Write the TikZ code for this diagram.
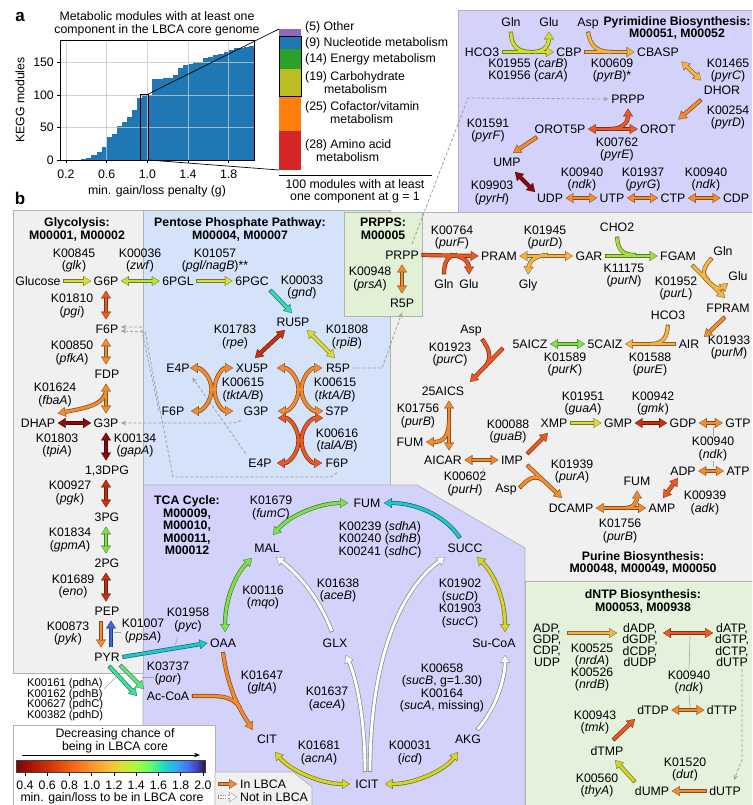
\documentclass[tikz,border=0pt]{standalone}
\usepackage{fontspec}
\setmainfont{Liberation Sans}
\usetikzlibrary{arrows.meta,calc}
\definecolor{tabblue}{HTML}{1F77B4}
\definecolor{tabpurple}{HTML}{9467BD}
\definecolor{tabgreen}{HTML}{2CA02C}
\definecolor{tabolive}{HTML}{BCBD22}
\definecolor{taborange}{HTML}{FF7F0E}
\definecolor{tabred}{HTML}{D62728}
\definecolor{bxgray}{HTML}{F0F0F0}
\definecolor{bxblue}{HTML}{D4E2FA}
\definecolor{bxlav}{HTML}{D2D2FA}
\definecolor{bxgreen}{HTML}{E2F0D6}
\definecolor{bxdgreen}{HTML}{E4F2DC}
\definecolor{cHC}{HTML}{D0E030}
\definecolor{cYel}{HTML}{DCDC3A}
\definecolor{cYG}{HTML}{BDE23C}
\definecolor{cLGrn}{HTML}{A4E03E}
\definecolor{cGrn}{HTML}{7EE04C}
\definecolor{cTeal}{HTML}{36DAB6}
\definecolor{cPdh}{HTML}{3EE09A}
\definecolor{cPor}{HTML}{62E684}
\definecolor{cCyan}{HTML}{22C6CC}
\definecolor{cLOr}{HTML}{F7B444}
\definecolor{cOr}{HTML}{F38C30}
\definecolor{cROr}{HTML}{EA5A22}
\definecolor{cRed}{HTML}{C8300F}
\definecolor{cDRed}{HTML}{8A0A0A}
\definecolor{cBlue}{HTML}{4466DD}
\definecolor{cOlive}{HTML}{D4D42A}
\pgfdeclarehorizontalshading{turbo}{100bp}{rgb(0bp)=(0.48,0.02,0.01); rgb(25bp)=(0.48,0.02,0.01); rgb(30bp)=(0.70,0.10,0.01); rgb(35bp)=(0.86,0.24,0.03); rgb(40bp)=(0.96,0.40,0.09); rgb(45bp)=(0.99,0.58,0.17); rgb(50bp)=(0.96,0.76,0.22); rgb(53.5bp)=(0.85,0.89,0.22); rgb(57bp)=(0.64,0.99,0.24); rgb(60.5bp)=(0.38,0.99,0.44); rgb(64bp)=(0.12,0.85,0.78); rgb(67.5bp)=(0.20,0.65,0.95); rgb(70.5bp)=(0.27,0.45,0.95); rgb(73bp)=(0.25,0.25,0.70); rgb(75bp)=(0.19,0.07,0.23); rgb(100bp)=(0.19,0.07,0.23)}
\newcommand\fs{\fontsize{12.3}{12.5}\selectfont}
\newcommand\FA[3][->]{\draw[ol=#2,#1] #3; \draw[fl=#2,#1] #3;}
\newcommand\FX[3]{\draw[ol=#1,<->] #2; \draw[ol=#1,<->] #3; \draw[fl=#1,<->] #2; \draw[fl=#1,<->] #3;}
\newcommand\FY[5]{%
 \draw[ol=#1,#2] #3;
 \if\relax\detokenize{#4}\relax\else\draw[ol=#1,->] #4;\fi
 \if\relax\detokenize{#5}\relax\else\draw[ol=#1] #5;\fi
 \draw[fl=#1,#2] #3;
 \if\relax\detokenize{#4}\relax\else\draw[fl=#1,->] #4;\fi
 \if\relax\detokenize{#5}\relax\else\draw[fl=#1] #5;\fi}
\begin{document}
\begin{tikzpicture}[x=1pt,y=1pt,font=\fs,
 m/.style={inner xsep=2.5pt, inner ysep=5pt, text height=8.8pt, text depth=0pt},
 k/.style={align=center, inner sep=0pt},
 tt/.style={align=center, inner sep=0pt, font=\fs\bfseries},
 ol/.style={line width=4.2pt, draw=#1!55!black, >={Triangle[length=7.8pt,width=9.8pt,line width=0.1pt]}},
 fl/.style={line width=2.8pt, draw=#1, shorten >=0.9pt, shorten <=0.9pt, >={Triangle[length=6.2pt,width=8pt,line width=0.1pt]}},
 dsh/.style={draw=gray!75, line width=0.8pt, dash pattern=on 3pt off 2pt, -{Stealth[length=5pt,width=4.5pt]}},
 ptr/.style={draw=gray!70, line width=0.6pt},
 bx/.style={draw=gray!60, line width=0.7pt},
]
\clip (0,0) rectangle (752,-805);
\fill[white] (0,0) rectangle (752,-805);

%================ panel a
\node[font=\bfseries\fontsize{17}{17}\selectfont, inner sep=0] (lbla) at (20,-17) {a};
\node[font=\bfseries\fontsize{17}{17}\selectfont, inner sep=0] (lblb) at (20,-198) {b};
\node[k] (atitle) at (157,-24) {Metabolic modules with at least one\\component in the LBCA core genome};
\foreach \v [count=\i from 0] in {1,3,8,12,20,35,40,52,59,66,77,95,100,100,124,125,126,126,130,141,146,147,150,150,157,158,162,163,166,169,172,173,174,175}
  \fill[tabblue] ({81.26+\i*5.08},-160) rectangle ({81.26+(\i+1)*5.08},{-160+\v*0.65});
\foreach \gx in {66,106.7,147.3,188,228.7} \draw[gray!45, line width=0.7pt, opacity=0.8] (\gx,-40) -- (\gx,-160);
\foreach \gy in {127.5,95,62.5} \draw[gray!45, line width=0.7pt, opacity=0.8] (60,-\gy) -- (254,-\gy);
\draw[line width=0.8pt] (60,-40) rectangle (254,-160);
\foreach \v/\yy [count=\i] in {0/160,50/127.5,100/95,150/62.5} {
  \draw[line width=0.7pt] (60,-\yy) -- (56.5,-\yy);
  \node[anchor=east, inner sep=0] (yt\i) at (54,-\yy) {\v};}
\foreach \lab/\xx [count=\i] in {0.2/66,0.6/106.7,1.0/147.3,1.4/188,1.8/228.7} {
  \draw[line width=0.7pt] (\xx,-160) -- (\xx,-163.5);
  \node[inner sep=0] (xt\i) at (\xx,-174) {\lab};}
\node[rotate=90, inner sep=0] (ylab) at (20,-100) {KEGG modules};
\node[inner sep=0] (xlab) at (157,-191) {min. gain/loss penalty (g)};
\draw[line width=0.9pt] (140,-94) rectangle (148.3,-160);
\draw[line width=0.7pt] (148.3,-94) -- (279,-29);
\draw[line width=0.7pt] (148.3,-160) -- (279,-170);
\fill[tabpurple] (279,-29) rectangle (301,-36);
\fill[tabblue] (279,-36) rectangle (301,-49);
\fill[tabgreen] (279,-49) rectangle (301,-69);
\fill[tabolive] (279,-69) rectangle (301,-96);
\fill[taborange] (279,-96) rectangle (301,-131);
\fill[tabred] (279,-131) rectangle (301,-170);
\draw[line width=0.9pt] (279,-36) rectangle (301,-96);
\node[anchor=west, inner sep=0] (c1) at (305,-27) {(5) Other};
\node[anchor=west, inner sep=0] (c2) at (305,-43) {(9) Nucleotide metabolism};
\node[anchor=west, inner sep=0] (c3) at (305,-59) {(14) Energy metabolism};
\node[anchor=west, inner sep=0] (c4) at (305,-77) {(19) Carbohydrate};
\node[anchor=west, inner sep=0] (c4b) at (324,-89) {metabolism};
\node[anchor=west, inner sep=0] (c5) at (305,-107) {(25) Cofactor/vitamin};
\node[anchor=west, inner sep=0] (c5b) at (330,-119) {metabolism};
\node[anchor=west, inner sep=0] (c6) at (305,-145) {(28) Amino acid};
\node[anchor=west, inner sep=0] (c6b) at (316,-157) {metabolism};
\draw[line width=0.8pt] (279,-175) -- (432,-175);
\node[k] (c100) at (355,-191.5) {100 modules with at least\\one component at g = 1};

%================ region boxes
\filldraw[fill=bxgray, bx] (390,-212) rectangle (760,-581);
\filldraw[fill=bxblue, bx] (143,-210) rectangle (390,-486);
\filldraw[fill=bxlav, bx] (143,-485) -- (417,-485) -- (525,-548) -- (525,-810) -- (143,-810) -- cycle;
\filldraw[fill=bxdgreen, bx] (525,-581) rectangle (760,-810);
\filldraw[fill=bxgray, bx] (13,-210) rectangle (143,-673);
\filldraw[fill=bxgreen, bx] (344,-212) rectangle (422,-316);
\filldraw[fill=bxlav, bx] (458,-10) rectangle (760,-212);
\filldraw[fill=white, bx] (13,-725) rectangle (215,-810);
\filldraw[fill=bxgray, bx] (215,-772) -- (293,-772) -- (312,-787) -- (312,-810) -- (215,-810) -- cycle;

%================ Pyrimidine
\node[m] (glnc) at (511,-22) {Gln};
\node[m] (gluc) at (549,-22) {Glu};
\node[m] (aspc) at (588,-22) {Asp};
\node[tt] (ytitle) at (677,-28) {Pyrimidine Biosynthesis:\\M00051, M00052};
\node[m] (hco3a) at (482,-52) {HCO3};
\node[m] (cbp) at (569,-52) {CBP};
\node[m] (cbasp) at (658,-52) {CBASP};
\node[k] (k01955) at (528,-70.5) {K01955 (\textit{carB})\\K01956 (\textit{carA})};
\node[k] (k00609) at (612,-70.5) {K00609\\(\textit{pyrB})*};
\node[k] (k01465) at (728,-70.5) {K01465\\(\textit{pyrC})};
\node[m] (dhor) at (722,-90) {DHOR};
\node[k] (k00254) at (728,-117.5) {K00254\\(\textit{pyrD})};
\node[m] (prppc) at (628,-99) {PRPP};
\node[m] (orot) at (658,-129) {OROT};
\node[m] (orot5p) at (560,-129) {OROT5P};
\node[k] (k00762) at (617,-149.5) {K00762\\(\textit{pyrE})};
\node[k] (k01591) at (488,-130.5) {K01591\\(\textit{pyrF})};
\node[m] (ump) at (507,-162) {UMP};
\node[k] (k09903) at (492,-193) {K09903\\(\textit{pyrH})};
\node[m] (udp) at (550,-198) {UDP};
\node[m] (utp) at (612,-198) {UTP};
\node[m] (ctp) at (673,-198) {CTP};
\node[m] (cdp) at (736,-198) {CDP};
\node[k] (k00940b) at (582,-179.5) {K00940\\(\textit{ndk})};
\node[k] (k01937) at (643,-179.5) {K01937\\(\textit{pyrG})};
\node[k] (k00940c) at (706,-179.5) {K00940\\(\textit{ndk})};

\FY{cHC}{->}{(hco3a.east) -- (cbp.west)}{(533,-52) .. controls (544,-52) and (549,-45) .. (gluc.south)}{(glnc.south) .. controls (511,-46) and (518,-52) .. (531,-52)}
\FY{cLOr}{->}{(cbp.east) -- (cbasp.west)}{}{(aspc.south) .. controls (590,-46) and (597,-52) .. (612,-52)}
\FA[<->]{cLOr}{(cbasp.south east) -- (dhor.north west)}
\FA{cOr}{(dhor.south west) -- (orot.north east)}
\FY{cROr}{<->}{(orot5p.east) -- (orot.west)}{(610,-129) .. controls (624,-129) and (628,-121) .. (prppc.south)}{}
\FA{cOr}{(537,-137) -- (513,-153)}
\FA[<->]{cDRed}{(515,-172) -- (535,-192)}
\FA[<->]{cOr}{(udp.east) -- (utp.west)}
\FA[<->]{cOr}{(utp.east) -- (ctp.west)}
\FA[<->]{cOr}{(ctp.east) -- (cdp.west)}

%================ Glycolysis + PPP
\node[tt] (gtitle) at (77,-229.5) {Glycolysis:\\M00001, M00002};
\node[tt] (ptitle) at (240,-229.5) {Pentose Phosphate Pathway:\\M00004, M00007};
\node[m] (glc) at (38,-281) {Glucose};
\node[m] (g6p) at (106,-281) {G6P};
\node[k] (k00845) at (74,-260.5) {K00845\\(\textit{glk})};
\node[k] (k00036) at (140,-260.5) {K00036\\(\textit{zwf})};
\node[m] (pgl) at (178,-281) {6PGL};
\node[m] (pgc) at (252,-281) {6PGC};
\node[k] (k01057) at (215,-260.5) {K01057\\(\textit{pgl/nagB})**};
\node[k] (k00033) at (302,-287.5) {K00033\\(\textit{gnd})};
\node[m] (ru5p) at (293,-322) {RU5P};
\node[k] (k01783) at (235,-337) {K01783\\(\textit{rpe})};
\node[k] (k01808) at (347,-337) {K01808\\(\textit{rpiB})};
\node[m] (e4pa) at (178,-368) {E4P};
\node[m] (xu5p) at (252,-368) {XU5P};
\node[m] (r5p) at (338,-368) {R5P};
\node[k] (k00615a) at (243,-390) {K00615\\(\textit{tktA/B})};
\node[k] (k00615b) at (335,-390) {K00615\\(\textit{tktA/B})};
\node[m] (f6pb) at (173,-411) {F6P};
\node[m] (g3pb) at (256,-411) {G3P};
\node[m] (s7p) at (337,-411) {S7P};
\node[k] (k00616) at (337,-440.5) {K00616\\(\textit{talA/B})};
\node[m] (e4pb) at (260,-463) {E4P};
\node[m] (f6pc) at (337,-463) {F6P};
\node[k] (k01810) at (72,-306) {K01810\\(\textit{pgi})};
\node[m] (f6pa) at (107,-329) {F6P};
\node[k] (k00850) at (72,-353) {K00850\\(\textit{pfkA})};
\node[m] (fdp) at (107,-374) {FDP};
\node[k] (k01624) at (55,-395) {K01624\\(\textit{fbaA})};
\node[m] (dhap) at (38,-423) {DHAP};
\node[m] (g3pa) at (106,-423) {G3P};
\node[k] (k01803) at (57,-445.5) {K01803\\(\textit{tpiA})};
\node[k] (k00134) at (135,-445.5) {K00134\\(\textit{gapA})};
\node[m] (dpg) at (107,-470) {1,3DPG};
\node[k] (k00927) at (70,-493) {K00927\\(\textit{pgk})};
\node[m] (pg3) at (107,-517) {3PG};
\node[k] (k01834) at (70,-540) {K01834\\(\textit{gpmA})};
\node[m] (pg2) at (107,-563) {2PG};
\node[k] (k01689) at (73,-586.5) {K01689\\(\textit{eno})};
\node[m] (pep) at (107,-611) {PEP};
\node[k] (k00873) at (68,-633.5) {K00873\\(\textit{pyk})};
\node[k] (k01007) at (143,-631) {K01007\\(\textit{ppsA})};
\node[m] (pyr) at (107,-657) {PYR};
\node[k] (k01958) at (188,-620) {K01958\\(\textit{pyc})};
\node[m] (oaa) at (223,-643) {OAA};
\node[k] (k03737) at (168,-673.5) {K03737\\(\textit{por})};
\node[m] (accoa) at (168,-696) {Ac-CoA};
\node[align=left, anchor=west, inner sep=0, font=\fontsize{11.2}{10.8}\selectfont] (kpdh) at (27,-699.5) {K00161 (pdhA)\\K00162 (pdhB)\\K00627 (pdhC)\\K00382 (pdhD)};

\draw[dsh] (g3pb.south west) -- (234,-423) -- (g3pa.east);
\draw[dsh] (f6pb.west) -- (141,-327) -- ([yshift=2pt]f6pa.east);
\draw[dsh] (f6pc.south) -- (331,-477) -- (173,-477) -- (145,-332) -- ([yshift=-2pt]f6pa.east);
\draw[dsh] (e4pb.north west) -- (e4pa.south east);

\FA{cYel}{(glc.east) -- (g6p.west)}
\FA[<->]{cYG}{(g6p.east) -- (pgl.west)}
\FA{cYel}{(pgl.east) -- (pgc.west)}
\FA{cTeal}{(270,-290) -- (292,-313)}
\FA[<->]{cRed}{(285,-330) -- (255,-358)}
\FA[<->]{cYel}{(307,-330) -- (335,-358)}
\FX{cOr}{(190,-368) to[out=0,in=90] (211.5,-389.5) to[out=-90,in=0] (191,-411)}{(233,-368) to[out=180,in=90] (214.5,-389.5) to[out=-90,in=180] (233,-411)}
\FX{cOr}{(277,-368) to[out=0,in=90] (298.5,-389.5) to[out=-90,in=0] (278,-411)}{(322,-368) to[out=180,in=90] (301.5,-389.5) to[out=-90,in=180] (323,-411)}
\FX{cROr}{(278,-418) to[out=0,in=90] (298.5,-440.5) to[out=-90,in=0] (277,-463)}{(323,-418) to[out=180,in=90] (301.5,-440.5) to[out=-90,in=180] (322,-463)}
\FA[<->]{cROr}{(g6p.south) -- ([xshift=-1pt]f6pa.north)}
\FA[<->]{cOr}{([xshift=-1pt]f6pa.south) -- ([xshift=-1pt]fdp.north)}
\FY{cOr}{<->}{([xshift=-1pt]fdp.south) -- (g3pa.north)}{(106,-389) .. controls (106,-405) and (85,-408) .. (dhap.north east)}{}
\FA[<->]{cDRed}{(dhap.east) -- (g3pa.west)}
\FA[<->]{cDRed}{(g3pa.south) -- ([xshift=-1pt]dpg.north)}
\FA[<->]{cRed}{([xshift=-1pt]dpg.south) -- ([xshift=-1pt]pg3.north)}
\FA[<->]{cGrn}{([xshift=-1pt]pg3.south) -- ([xshift=-1pt]pg2.north)}
\FA[<->]{cRed}{([xshift=-1pt]pg2.south) -- ([xshift=-1pt]pep.north)}
\FA{cOr}{([xshift=-6pt]pep.south) -- ([xshift=-6pt]pyr.north)}
\FA{cBlue}{([xshift=4pt]pyr.north) -- ([xshift=4pt]pep.south)}
\FA{cCyan}{(pyr.east) -- (oaa.west)}
\FA{cPdh}{(109,-666) -- (137,-696)}
\FA{cPor}{(120,-665) -- (144,-689)}
\draw[ptr] (114,-632) -- (121,-632);
\draw[ptr] (178,-637) -- (174,-648);
\draw[ptr] (142,-677) -- (154,-677);
\draw[ptr] (104,-689) -- (118,-675);

%================ PRPPS + Purine
\node[tt] (prtitle) at (383,-229) {PRPPS:\\M00005};
\node[m] (prpp1) at (402,-255) {PRPP};
\node[k] (k00948) at (370,-279) {K00948\\(\textit{prsA})};
\node[m] (r5pb) at (402,-303) {R5P};
\node[k] (k00764) at (452,-237.5) {K00764\\(\textit{purF})};
\node[m] (pram) at (499,-256) {PRAM};
\node[m] (glna) at (444,-284) {Gln};
\node[m] (glua) at (469,-284) {Glu};
\node[k] (k01945) at (545,-237.5) {K01945\\(\textit{purD})};
\node[m] (gar) at (589,-256) {GAR};
\node[m] (gly) at (528,-284) {Gly};
\node[m] (cho2) at (617,-227) {CHO2};
\node[k] (k11175) at (624,-275.5) {K11175\\(\textit{purN})};
\node[m] (fgam) at (678,-256) {FGAM};
\node[m] (glnb) at (723,-251) {Gln};
\node[m] (glub) at (738,-276) {Glu};
\node[k] (k01952) at (676,-288.5) {K01952\\(\textit{purL})};
\node[m] (fpram) at (728,-308) {FPRAM};
\node[k] (k01933) at (729,-347.5) {K01933\\(\textit{purM})};
\node[m] (air) at (689,-344) {AIR};
\node[m] (hco3b) at (668,-315) {HCO3};
\node[k] (k01588) at (650,-364.5) {K01588\\(\textit{purE})};
\node[m] (caiz) at (605,-344) {5CAIZ};
\node[m] (aicz) at (530,-344) {5AICZ};
\node[k] (k01589) at (565,-364.5) {K01589\\(\textit{purK})};
\node[m] (aspa) at (471,-329) {Asp};
\node[k] (k01923) at (450,-354.5) {K01923\\(\textit{purC})};
\node[m] (aics) at (443,-391) {25AICS};
\node[k] (k01756a) at (418,-416) {K01756\\(\textit{purB})};
\node[m] (fuma) at (410,-442) {FUM};
\node[m] (aicar) at (443,-460) {AICAR};
\node[m] (imp) at (512,-460) {IMP};
\node[k] (k00602) at (465,-484) {K00602\\(\textit{purH})};
\node[m] (xmp) at (554,-423) {XMP};
\node[k] (k00088) at (508,-431.5) {K00088\\(\textit{guaB})};
\node[k] (k01951) at (583,-403.5) {K01951\\(\textit{guaA})};
\node[m] (gmp) at (618,-423) {GMP};
\node[k] (k00942) at (653,-403.5) {K00942\\(\textit{gmk})};
\node[m] (gdp) at (683,-423) {GDP};
\node[m] (gtp) at (738,-423) {GTP};
\node[k] (k00940a) at (713,-449) {K00940\\(\textit{ndk})};
\node[m] (adp) at (683,-471) {ADP};
\node[m] (atp) at (738,-471) {ATP};
\node[m] (aspb) at (506,-488) {Asp};
\node[k] (k01939) at (572,-471.5) {K01939\\(\textit{purA})};
\node[m] (dcamp) at (571,-508) {DCAMP};
\node[m] (fumb) at (637,-481) {FUM};
\node[m] (amp) at (662,-508) {AMP};
\node[k] (k01756b) at (620,-531) {K01756\\(\textit{purB})};
\node[k] (k00939) at (705,-503) {K00939\\(\textit{adk})};
\node[tt] (putitle) at (643,-563) {Purine Biosynthesis:\\M00048, M00049, M00050};

\draw[dsh] (r5p.east) -- (382,-368) -- (r5pb.south);
\draw[dsh] (412,-244) -- (468,-98) -- (prppc.west);

\FA[<->]{cOr}{(prpp1.south) -- (r5pb.north)}
\FY{cROr}{->}{(prpp1.east) -- (pram.west)}{(450,-255) .. controls (462,-255) and (469,-262) .. (glua.north)}{(glna.north) .. controls (444,-263) and (447,-255) .. (457,-255)}
\FY{cLOr}{<->}{(pram.east) -- (gar.west)}{(548,-255) .. controls (535,-255) and (529,-262) .. (gly.north)}{}
\FY{cLGrn}{->}{(gar.east) -- (fgam.west)}{}{(cho2.south) .. controls (618,-250) and (622,-255) .. (636,-255)}
\FY{cLOr}{->}{(692,-265) -- (725,-298)}{(704,-277) .. controls (712,-287) and (720,-290) .. (728,-283)}{(712,-258) .. controls (703,-267) and (701,-275) .. (709,-281)}
\FA{cOr}{(725,-317) -- (704,-337)}
\FY{cLOr}{->}{(air.west) -- (caiz.east)}{}{(hco3b.south) .. controls (667,-338) and (663,-344) .. (650,-344)}
\FA[<->]{cGrn}{(caiz.west) -- (aicz.east)}
\FY{cROr}{->}{(503,-348) -- (470,-382)}{}{(482,-339) .. controls (490,-350) and (492,-358) .. (485,-367)}
\FY{cOr}{<->}{([xshift=6pt]aics.south) -- ([xshift=6pt]aicar.north)}{(449,-420) .. controls (449,-438) and (442,-442) .. (fuma.east)}{}
\FA[<->]{cOr}{(aicar.east) -- (imp.west)}
\FA{cROr}{(527,-454) -- (548,-433)}
\FA{cYel}{(xmp.east) -- (gmp.west)}
\FA[<->]{cRed}{(gmp.east) -- (gdp.west)}
\FA[<->]{cOr}{(gdp.east) -- (gtp.west)}
\FA[<->]{cOr}{(adp.east) -- (atp.west)}
\draw[ptr] (713,-427) -- (k00940a.north);
\draw[ptr] (k00940a.south) -- (713,-467);
\FY{cOr}{->}{(527,-465) -- (562,-498)}{}{(aspb.east) .. controls (527,-480) and (533,-474) .. (543,-480)}
\FY{cOr}{<->}{(dcamp.east) -- (amp.west)}{(625,-508) .. controls (635,-508) and (637,-500) .. (fumb.south)}{}
\FA[<->]{cROr}{(663,-498) -- (678,-478)}
\draw[ptr] (480,-482) -- (484,-468);

%================ TCA
\node[tt] (ttitle) at (187,-525.5) {TCA Cycle:\\M00009,\\M00010,\\M00011,\\M00012};
\node[k] (k01679) at (271,-508) {K01679\\(\textit{fumC})};
\node[m] (fumc) at (367,-503) {FUM};
\node[m] (mal) at (267,-548) {MAL};
\node[m] (succ) at (465,-548) {SUCC};
\node[k] (ksdh) at (380,-539.5) {K00239 (\textit{sdhA})\\K00240 (\textit{sdhB})\\K00241 (\textit{sdhC})};
\node[k] (k00116) at (263,-597.5) {K00116\\(\textit{mqo})};
\node[k] (k01638) at (338,-590.5) {K01638\\(\textit{aceB})};
\node[k] (ksuc) at (460,-603.5) {K01902\\(\textit{sucD})\\K01903\\(\textit{sucC})};
\node[m] (glx) at (335,-643) {GLX};
\node[m] (sucoa) at (494,-643) {Su-CoA};
\node[k] (k01647) at (262,-682.5) {K01647\\(\textit{gltA})};
\node[k] (k01637) at (327,-699) {K01637\\(\textit{aceA})};
\node[k] (ksucb) at (442,-688) {K00658\\(\textit{sucB}, g=1.30)\\K00164\\(\textit{sucA}, missing)};
\node[m] (cit) at (267,-739) {CIT};
\node[m] (akg) at (468,-739) {AKG};
\node[m] (icit) at (367,-784) {ICIT};
\node[k] (k01681) at (319,-753) {K01681\\(\textit{acnA})};
\node[k] (k00031) at (410,-753) {K00031\\(\textit{icd})};

\FA[<->]{cGrn}{(273,-535) .. controls (290,-515) and (320,-503) .. (348,-503)}
\FA{cCyan}{(460,-538) .. controls (445,-515) and (415,-503) .. (384,-503)}
\FA[<->]{cGrn}{(225,-632) .. controls (225,-600) and (235,-575) .. (252,-558)}
\FA{white}{(332,-632) .. controls (320,-600) and (300,-575) .. (276,-557)}
\draw[ol=white,->] (365,-772) .. controls (365,-720) and (357,-680) .. (346,-655);
\draw[ol=white,->] (370,-772) .. controls (370,-660) and (400,-590) .. (445,-557);
\draw[fl=white,->] (365,-772) .. controls (365,-720) and (357,-680) .. (346,-655);
\draw[fl=white,->] (370,-772) .. controls (370,-660) and (400,-590) .. (445,-557);
\FA[<->]{cOlive}{(477,-557) .. controls (495,-575) and (505,-600) .. (505,-632)}
\FA{white}{(477,-730) .. controls (495,-710) and (505,-680) .. (505,-655)}
\FA[<->]{cOlive}{(275,-752) .. controls (290,-770) and (320,-784) .. (350,-784)}
\FA[<->]{cOlive}{(385,-784) .. controls (415,-784) and (445,-770) .. (458,-752)}
\FY{cOr}{->}{(223,-652) .. controls (228,-690) and (240,-710) .. (253,-730)}{}{(accoa.east) .. controls (215,-696) and (232,-694) .. (240,-708)}

%================ dNTP
\node[tt] (dtitle) at (643,-601.5) {dNTP Biosynthesis:\\M00053, M00938};
\node[k, font=\fontsize{12.3}{11.4}\selectfont] (ndp) at (547,-645) {ADP,\\GDP,\\CDP,\\UDP};
\node[k, font=\fontsize{12.3}{11.4}\selectfont] (dndp) at (640,-645) {dADP,\\dGDP,\\dCDP,\\dUDP};
\node[k, font=\fontsize{12.3}{11.4}\selectfont] (dntp) at (732,-645) {dATP,\\dGTP,\\dCTP,\\dUTP};
\node[k, font=\fontsize{12.3}{12}\selectfont] (knrd) at (592,-667) {K00525\\(\textit{nrdA})\\K00526\\(\textit{nrdB})};
\node[k] (k00940d) at (689,-682.5) {K00940\\(\textit{ndk})};
\node[m] (dtdp) at (653,-710) {dTDP};
\node[m] (dttp) at (722,-710) {dTTP};
\node[k] (k00943) at (595,-722.5) {K00943\\(\textit{tmk})};
\node[m] (dtmp) at (607,-751) {dTMP};
\node[k] (k00560) at (597,-785.5) {K00560\\(\textit{thyA})};
\node[m] (dump) at (652,-791) {dUMP};
\node[m] (dutp) at (725,-791) {dUTP};
\node[k] (k01520) at (685,-769.5) {K01520\\(\textit{dut})};

\FA{cLOr}{(567,-633) -- (617,-633)}
\FA[<->]{cROr}{(663,-633) -- (713,-633)}
\draw[ptr] (690,-636) -- (k00940d.north);
\draw[ptr] (k00940d.south) -- (690,-708);
\FA[<->]{cOr}{(dtdp.east) -- (dttp.west)}
\FA{cROr}{(613,-740) -- (635,-719)}
\FA{cOlive}{(635,-782) -- (615,-760)}
\FA{cOr}{(dutp.west) -- (dump.east)}
\draw[dsh] (742,-664) -- (742,-760) -- (734,-780);

%================ legends
\node[k] (lgt) at (115,-741) {Decreasing chance of\\being in LBCA core};
\draw[line width=0.8pt, -{Stealth[length=6pt,width=4.5pt]}] (22,-755) -- (200,-755);
\shade[shading=turbo] (16,-760) rectangle (205,-772);
\draw[gray!50!black, line width=0.4pt] (16,-760) rectangle (205,-772);
\foreach \lab [count=\i from 0] in {0.4,0.6,0.8,1.0,1.2,1.4,1.6,1.8,2.0} {
  \draw[line width=0.6pt] ({25+\i*22.25},-772) -- ({25+\i*22.25},-775.5);
  \node[inner sep=0] (cb\i) at ({25+\i*22.25},-785) {\lab};}
\node[inner sep=0] (cblab) at (112,-798) {min. gain/loss to be in LBCA core};
\FA{cOr}{(218,-784) -- (237,-784)}
\draw[ol=white,->,dash pattern=on 1.2pt off 1.2pt] (218,-797) -- (237,-797);
\draw[fl=white,->] (218,-797) -- (237,-797);
\node[anchor=west, inner sep=0] (lin) at (240,-784) {In LBCA};
\node[anchor=west, inner sep=0] (lnot) at (240,-797) {Not in LBCA};
\end{tikzpicture}
\end{document}
